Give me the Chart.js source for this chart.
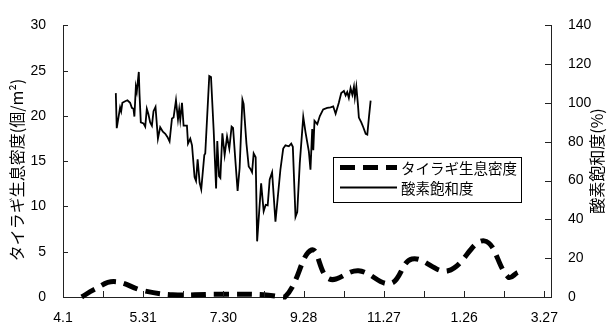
<!DOCTYPE html>
<html>
<head>
<meta charset="utf-8">
<script src="https://cdn.jsdelivr.net/npm/chart.js@4.4.0/dist/chart.umd.min.js"></script>
<style>
  html, body { margin: 0; padding: 0; background: #fff; }
  #wrap { width: 609px; height: 329px; }
</style>
</head>
<body>
<div id="wrap"><canvas id="c" width="609" height="329"></canvas></div>
<script>
// Days counted from 4.1; axis covers one year
const tickDays = [0, 30, 60, 90, 120, 150, 180, 210, 240, 270, 300, 330, 360];
const dateLabels = ['4.1', '5.31', '7.30', '9.28', '11.27', '1.26', '3.27'];
const leftTicks = [0, 5, 10, 15, 20, 25, 30];
const rightTicks = [0, 20, 40, 60, 80, 100, 120, 140];

const densityName = 'タイラギ生息密度';
const oxygenName = '酸素飽和度';
const leftTitle = 'タイラギ生息密度(個/m²)';
const rightTitle = '酸素飽和度(%)';

// タイラギ生息密度 (個/m²)
const densityDays = [14, 23, 38, 60, 82, 115, 150, 166, 186, 199, 221, 245, 261, 288, 315, 333, 340];
const densityValues = [0, 0.8, 1.7, 0.7, 0.25, 0.3, 0.25, 0, 5.2, 2.0, 2.9, 1.5, 4.2, 2.9, 6.2, 2.2, 2.7];

// 酸素飽和度 (%)
const oxygenDays = [39.5, 40.2, 42.7, 43.5, 44.4, 46.5, 48.2, 50.2, 51.5, 52.7, 53.4, 54.5, 55.2, 56.7, 57.2, 58.2, 60.2, 61.5, 62.7, 63.9, 65.2, 66.5, 67.7, 69.2, 71.0, 72.7, 74.7, 76.5, 78.2, 79.7, 81.5, 82.7, 84.5, 85.2, 86.0, 86.9, 87.7, 89.0, 90.2, 92.7, 93.5, 95.2, 96.5, 98.4, 99.5, 100.7, 102.2, 103.4, 105.7, 106.4, 109.4, 110.7, 112.7, 114.5, 115.4, 116.7, 117.7, 119.2, 120.9, 122.7, 124.4, 126.1, 127.2, 128.9, 130.6, 132.1, 134.2, 135.1, 137.2, 138.9, 140.2, 141.4, 142.6, 144.1, 145.2, 148.2, 150.1, 151.6, 153.1, 154.6, 156.4, 158.9, 162.6, 164.7, 166.4, 168.9, 170.7, 171.9, 173.9, 175.2, 177.1, 179.7, 181.4, 183.9, 185.1, 186.4, 187.2, 188.1, 190.2, 192.1, 194.6, 197.6, 200.1, 202.1, 203.9, 206.3, 208.1, 210.1, 211.4, 212.6, 213.8, 215.1, 216.4, 217.6, 218.3, 219.4, 220.6, 221.3, 223.1, 224.6, 226.4, 227.6, 228.8, 230.1];
const oxygenValues = [105.1, 87.0, 97.7, 95.7, 100.1, 100.9, 101.4, 100.1, 97.5, 97.0, 93.0, 108.4, 105.9, 116.0, 105.1, 90.0, 89.5, 87.8, 97.0, 94.2, 90.0, 88.3, 95.8, 98.0, 81.6, 87.5, 85.2, 84.1, 82.4, 80.2, 92.0, 92.5, 101.4, 96.7, 91.6, 96.7, 91.3, 100.1, 88.3, 88.3, 79.1, 81.6, 78.2, 61.8, 59.8, 71.0, 58.9, 55.5, 73.2, 74.0, 113.9, 113.4, 85.8, 55.9, 80.4, 62.3, 61.4, 84.4, 73.2, 82.7, 76.5, 87.8, 87.1, 70.6, 54.7, 66.5, 101.7, 99.5, 79.1, 67.3, 66.0, 64.3, 74.0, 72.0, 28.7, 58.6, 44.2, 47.5, 47.2, 60.6, 64.3, 38.8, 65.6, 76.5, 78.2, 77.7, 79.1, 77.4, 41.3, 43.8, 69.0, 92.8, 84.9, 74.9, 65.6, 86.6, 75.7, 90.8, 89.1, 93.3, 96.7, 97.5, 97.8, 98.3, 94.5, 100.1, 105.1, 106.2, 103.9, 105.6, 102.6, 107.6, 104.2, 108.4, 102.9, 108.4, 99.2, 92.5, 90.0, 87.5, 84.1, 83.7, 92.5, 101.2];

const numFont = "'Liberation Sans', Arial, sans-serif";
const jpFont = "'Noto Sans CJK JP', sans-serif";
const axisColor = '#222';

// Short tick marks pointing into the plot area
const innerTicks = {
  id: 'innerTicks',
  afterDraw(chart) {
    const ctx = chart.ctx;
    const {x, y, y1} = chart.scales;
    const area = chart.chartArea;
    ctx.save();
    ctx.strokeStyle = axisColor;
    ctx.lineWidth = 1;
    ctx.beginPath();
    x.ticks.forEach(t => {
      const px = Math.round(x.getPixelForValue(t.value)) + 0.5;
      ctx.moveTo(px, area.bottom);
      ctx.lineTo(px, area.bottom - 6);
    });
    y.ticks.forEach(t => {
      const py = Math.round(y.getPixelForValue(t.value)) + 0.5;
      ctx.moveTo(area.left, py);
      ctx.lineTo(area.left + 5, py);
    });
    y1.ticks.forEach(t => {
      const py = Math.round(y1.getPixelForValue(t.value)) + 0.5;
      ctx.moveTo(area.right, py);
      ctx.lineTo(area.right - 6, py);
    });
    ctx.stroke();
    ctx.restore();
  }
};

// Vertical axis titles, both reading bottom to top
const axisTitles = {
  id: 'axisTitles',
  afterDraw(chart) {
    const ctx = chart.ctx;
    ctx.save();
    ctx.fillStyle = '#000';
    ctx.font = '16px ' + jpFont;
    ctx.textAlign = 'center';
    ctx.textBaseline = 'middle';
    ctx.translate(17, 170);
    ctx.rotate(-Math.PI / 2);
    ctx.fillText(leftTitle, 0, 0);
    ctx.restore();

    ctx.save();
    ctx.fillStyle = '#000';
    ctx.font = '16px ' + jpFont;
    ctx.textAlign = 'center';
    ctx.textBaseline = 'middle';
    ctx.translate(597, 161);
    ctx.rotate(-Math.PI / 2);
    ctx.fillText(rightTitle, 0, 0);
    ctx.restore();
  }
};

// Boxed legend inside the plot
const boxLegend = {
  id: 'boxLegend',
  afterDraw(chart) {
    const ctx = chart.ctx;
    const bx = 333.5, by = 157.5, bw = 188, bh = 45;
    ctx.save();
    ctx.fillStyle = '#fff';
    ctx.fillRect(bx, by, bw, bh);
    ctx.strokeStyle = '#000';
    ctx.lineWidth = 1;
    ctx.strokeRect(bx, by, bw, bh);

    const rows = [167.5, 187.5];
    chart.data.datasets.forEach((ds, i) => {
      const ry = rows[i];
      ctx.save();
      ctx.strokeStyle = ds.borderColor;
      ctx.lineWidth = ds.borderWidth;
      ctx.lineCap = 'butt';
      ctx.setLineDash(ds.legendDash || []);
      ctx.beginPath();
      ctx.moveTo(340, ry);
      ctx.lineTo(397, ry);
      ctx.stroke();
      ctx.restore();
      ctx.fillStyle = '#000';
      ctx.font = '14.5px ' + jpFont;
      ctx.textAlign = 'left';
      ctx.textBaseline = 'middle';
      ctx.fillText(ds.label, 401, ry + 0.5);
    });
    ctx.restore();
  }
};

new Chart(document.getElementById('c'), {
  type: 'line',
  data: {
    datasets: [
      {
        label: densityName,
        data: densityDays.map((d, i) => ({x: d, y: densityValues[i]})),
        yAxisID: 'y',
        borderColor: '#000',
        borderWidth: 5,
        borderDash: [15, 8],
        legendDash: [15, 8],
        borderCapStyle: 'butt',
        tension: 0.4,
        pointRadius: 0,
        fill: false,
        clip: false
      },
      {
        label: oxygenName,
        data: oxygenDays.map((d, i) => ({x: d, y: oxygenValues[i]})),
        yAxisID: 'y1',
        borderColor: '#000',
        borderWidth: 1.8,
        tension: 0,
        pointRadius: 0,
        fill: false
      }
    ]
  },
  options: {
    responsive: false,
    animation: false,
    devicePixelRatio: 1,
    layout: { padding: { top: 19, left: 0, right: 0, bottom: 0 } },
    plugins: {
      legend: { display: false },
      tooltip: { enabled: false }
    },
    scales: {
      x: {
        type: 'linear',
        min: 0,
        max: 365,
        afterBuildTicks(scale) { scale.ticks = tickDays.map(v => ({value: v})); },
        afterFit(scale) { scale.height = 32; },
        grid: { display: true, drawOnChartArea: false, drawTicks: false },
        border: { display: true, color: axisColor, width: 1 },
        ticks: {
          autoSkip: false,
          maxRotation: 0,
          padding: 13,
          color: '#000',
          font: { family: numFont, size: 14 },
          callback: v => (v % 60 === 0 ? dateLabels[v / 60] : '')
        }
      },
      y: {
        position: 'left',
        min: 0,
        max: 30,
        afterBuildTicks(scale) { scale.ticks = leftTicks.map(v => ({value: v})); },
        afterFit(scale) { scale.width = 63; },
        grid: { display: true, drawOnChartArea: false, drawTicks: false },
        border: { display: true, color: axisColor, width: 1 },
        ticks: { padding: 17, color: '#000', font: { family: numFont, size: 14 } }
      },
      y1: {
        position: 'right',
        min: 0,
        max: 140,
        afterBuildTicks(scale) { scale.ticks = rightTicks.map(v => ({value: v})); },
        afterFit(scale) { scale.width = 58; },
        grid: { display: true, drawOnChartArea: false, drawTicks: false },
        border: { display: true, color: axisColor, width: 1 },
        ticks: { padding: 17, color: '#000', font: { family: numFont, size: 14 } }
      }
    }
  },
  plugins: [innerTicks, axisTitles, boxLegend]
});
</script>
</body>
</html>
